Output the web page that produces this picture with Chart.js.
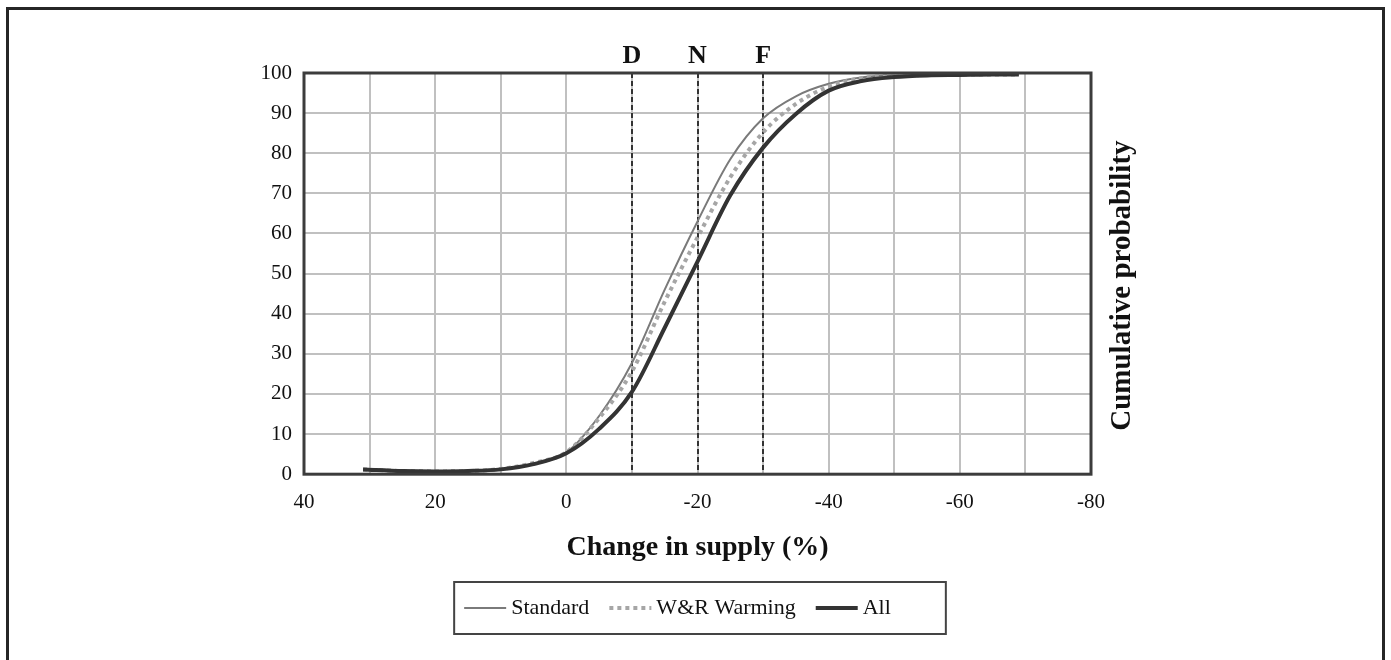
<!DOCTYPE html>
<html>
<head>
<meta charset="utf-8">
<script src="https://cdn.jsdelivr.net/npm/chart.js@4.4.0/dist/chart.umd.min.js"></script>
<style>
  html, body { margin: 0; padding: 0; background: #fff; overflow: hidden; }
  #wrap { position: relative; width: 1391px; height: 660px; }
  #frame {
    position: absolute; left: 6px; top: 7px; width: 1373px; height: 720px;
    border: 3px solid #262626; box-sizing: content-box; pointer-events: none;
  }
  canvas { position: absolute; left: 0; top: 0; }
</style>
</head>
<body>
<div id="wrap">
  <canvas id="chart" width="1391" height="660"></canvas>
  <div id="frame"></div>
</div>
<script>
// change in supply (%) on x, cumulative probability (%) on y
const supplyChange = [31, 25, 20, 15, 10, 5, 0, -5, -10, -15, -20, -25, -30, -35, -40, -45, -50, -55, -60, -65, -69];
const standardProb = [1.2, 0.8, 0.7, 0.8, 1.2, 2.6, 5.4, 14.5, 27.7, 46.0, 63.0, 78.5, 88.7, 94.2, 97.3, 98.9, 99.4, 99.5, 99.6, 99.6, 99.6];
const warmingProb  = [1.2, 0.8, 0.7, 0.8, 1.3, 2.8, 5.5, 14.0, 25.6, 43.0, 59.0, 74.0, 85.2, 92.3, 96.6, 98.7, 99.3, 99.5, 99.6, 99.6, 99.6];
const allProb      = [1.2, 0.8, 0.7, 0.8, 1.2, 2.5, 5.2, 11.3, 20.5, 36.5, 53.0, 69.5, 81.4, 89.8, 95.6, 98.0, 99.0, 99.4, 99.5, 99.6, 99.6];

const seriesNames = ["Standard", "W&R Warming", "All"];

// scenario markers drawn as dashed verticals
const markerLabels = ["D", "N", "F"];
const markerValues = [-10, -20, -30];

const serif = "'Liberation Serif', 'Times New Roman', serif";
Chart.defaults.font.family = serif;
Chart.defaults.color = "#111";

const toPoints = ys => supplyChange.map((x, i) => ({ x, y: ys[i] }));

const SAMPLE_W = 42;

const decorPlugin = {
  id: "decor",
  beforeDatasetsDraw(chart) {
    const { ctx, chartArea, scales } = chart;
    ctx.save();
    ctx.strokeStyle = "#333";
    ctx.lineWidth = 2;
    ctx.setLineDash([5, 3]);
    markerValues.forEach(v => {
      const px = Math.round(scales.x.getPixelForValue(v));
      ctx.beginPath();
      ctx.moveTo(px, chartArea.top);
      ctx.lineTo(px, chartArea.bottom);
      ctx.stroke();
    });
    ctx.restore();
  },
  afterDraw(chart) {
    const { ctx, chartArea, scales } = chart;
    ctx.save();
    // plot frame
    ctx.strokeStyle = "#3c3c3c";
    ctx.lineWidth = 3;
    ctx.strokeRect(chartArea.left, chartArea.top, chartArea.right - chartArea.left, chartArea.bottom - chartArea.top);

    // marker letters
    ctx.fillStyle = "#111";
    ctx.font = "bold 26px " + serif;
    ctx.textAlign = "center";
    ctx.textBaseline = "alphabetic";
    markerLabels.forEach((lab, i) => {
      ctx.fillText(lab, scales.x.getPixelForValue(markerValues[i]), chartArea.top - 10);
    });

    // right-hand axis title
    ctx.font = "bold 29px " + serif;
    ctx.translate(chartArea.right + 32, (chartArea.top + chartArea.bottom) / 2 + 12);
    ctx.rotate(-Math.PI / 2);
    ctx.textBaseline = "middle";
    ctx.fillText("Cumulative probability", 0, 0);
    ctx.restore();

    // legend samples and box
    const legend = chart.legend;
    const boxes = legend.legendHitBoxes;
    if (boxes && boxes.length) {
      const half = legend.options.labels.font.size / 2;
      legend.legendItems.forEach((item, i) => {
        const ds = chart.data.datasets[item.datasetIndex];
        const b = boxes[i];
        ctx.save();
        ctx.strokeStyle = ds.borderColor;
        ctx.lineWidth = ds.borderWidth;
        ctx.setLineDash(ds.borderDash || []);
        ctx.beginPath();
        ctx.moveTo(b.left + 6, b.top + half);
        ctx.lineTo(b.left + 6 + SAMPLE_W, b.top + half);
        ctx.stroke();
        ctx.restore();
      });
      const left = Math.min(...boxes.map(b => b.left)) - 4;
      const right = Math.max(...boxes.map(b => b.left + b.width)) + 55;
      const top = Math.min(...boxes.map(b => b.top)) - 15;
      const bottom = Math.max(...boxes.map(b => b.top + b.height)) + 15;
      ctx.save();
      ctx.strokeStyle = "#444";
      ctx.lineWidth = 2;
      ctx.strokeRect(left, top, right - left, bottom - top);
      ctx.restore();
    }
  }
};

new Chart(document.getElementById("chart"), {
  type: "line",
  data: {
    datasets: [
      {
        label: seriesNames[0],
        data: toPoints(standardProb),
        borderColor: "#7a7a7a",
        borderWidth: 2,
        pointRadius: 0,
        cubicInterpolationMode: "monotone",
        order: 3
      },
      {
        label: seriesNames[1],
        data: toPoints(warmingProb),
        borderColor: "#a6a6a6",
        borderWidth: 4,
        borderDash: [4, 4],
        pointRadius: 0,
        cubicInterpolationMode: "monotone",
        order: 2
      },
      {
        label: seriesNames[2],
        data: toPoints(allProb),
        borderColor: "#333",
        borderWidth: 4,
        pointRadius: 0,
        cubicInterpolationMode: "monotone",
        order: 1
      }
    ]
  },
  options: {
    responsive: false,
    animation: false,
    layout: { padding: { left: 258, right: 300, top: 73, bottom: 31 } },
    plugins: {
      tooltip: { enabled: false },
      legend: {
        position: "bottom",
        labels: {
          usePointStyle: true,
          pointStyle: "line",
          pointStyleWidth: SAMPLE_W,
          padding: 14,
          font: { size: 22 },
          color: "#111",
          sort: (a, b) => a.datasetIndex - b.datasetIndex,
          generateLabels: chart =>
            Chart.defaults.plugins.legend.labels.generateLabels(chart).map(item => ({
              ...item,
              strokeStyle: "rgba(0,0,0,0)",
              fillStyle: "rgba(0,0,0,0)"
            }))
        }
      }
    },
    scales: {
      x: {
        type: "linear",
        reverse: true,
        min: -80,
        max: 40,
        border: { display: false },
        grid: { color: "#c0c0c0", lineWidth: 2, drawTicks: false },
        ticks: {
          stepSize: 10,
          autoSkip: false,
          maxRotation: 0,
          padding: 16,
          font: { size: 21 },
          color: "#111",
          callback: v => (v % 20 === 0 ? String(v) : "")
        },
        title: {
          display: true,
          text: "Change in supply (%)",
          font: { size: 28, weight: "bold" },
          color: "#111",
          padding: { top: 0, bottom: 18 }
        }
      },
      y: {
        min: 0,
        max: 100,
        border: { display: false },
        grid: { color: "#c0c0c0", lineWidth: 2, drawTicks: false },
        ticks: { stepSize: 10, padding: 12, font: { size: 21 }, color: "#111" },
        afterFit: scale => { scale.width = 46; }
      }
    }
  },
  plugins: [decorPlugin]
});
</script>
</body>
</html>
